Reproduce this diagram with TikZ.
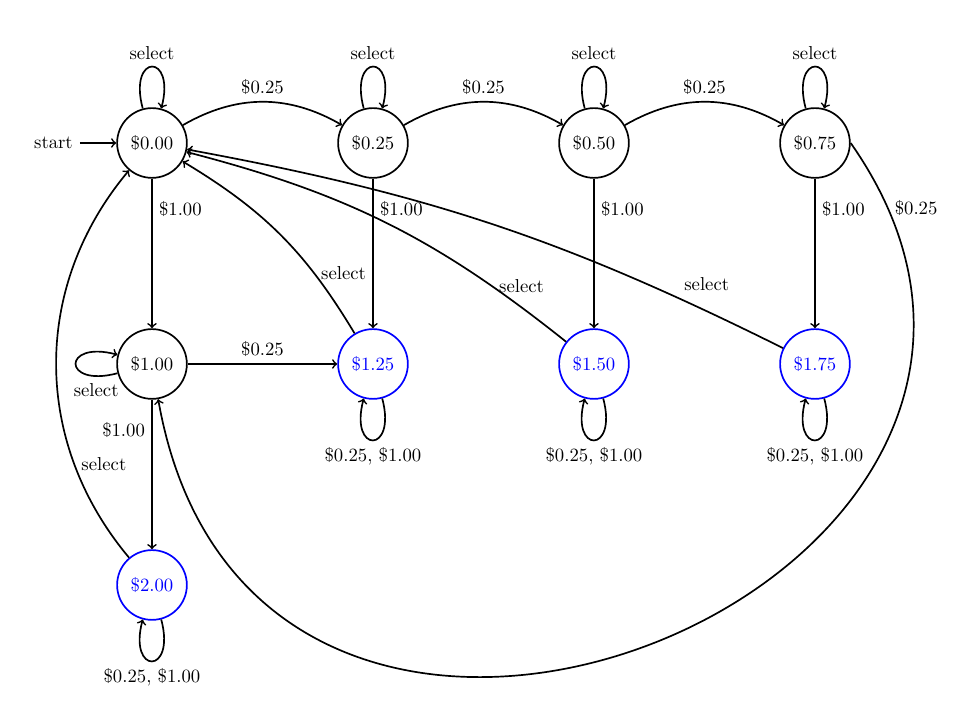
\documentclass[tikz,border=0pt]{standalone}
\begin{document}
\begin{tikzpicture}[line width=0.9pt,
  coin/.style={draw, circle, minimum size=1.31cm, inner sep=0pt},
  paid/.style={coin, blue}]
\useasboundingbox (-2.854,-10.779) rectangle (15.549,2.685);
% states
\node[coin] (q000) at (0,0) {\$0.00};
\node[coin] (q025) at (4.15,0) {\$0.25};
\node[coin] (q050) at (8.3,0) {\$0.50};
\node[coin] (q075) at (12.45,0) {\$0.75};
\node[coin] (q100) at (0,-4.15) {\$1.00};
\node[paid] (q125) at (4.15,-4.15) {\$1.25};
\node[paid] (q150) at (8.3,-4.15) {\$1.50};
\node[paid] (q175) at (12.45,-4.15) {\$1.75};
\node[paid] (q200) at (0,-8.3) {\$2.00};
\node (start) at (-1.85,0) {start};
\draw[->] (start) -- (q000);
% loops
\draw[->] (q000) to[loop above] node[above] {select} ();
\draw[->] (q025) to[loop above] node[above] {select} ();
\draw[->] (q050) to[loop above] node[above] {select} ();
\draw[->] (q075) to[loop above] node[above] {select} ();
\draw[->] (q100) to[loop left] node[below, pos=0.15] {select} ();
\draw[->] (q125) to[loop below] node[below] {\$0.25, \$1.00} ();
\draw[->] (q150) to[loop below] node[below] {\$0.25, \$1.00} ();
\draw[->] (q175) to[loop below] node[below] {\$0.25, \$1.00} ();
\draw[->] (q200) to[loop below] node[below] {\$0.25, \$1.00} ();
% quarters
\draw[->] (q000) to[bend left=30] node[above] {\$0.25} (q025);
\draw[->] (q025) to[bend left=30] node[above] {\$0.25} (q050);
\draw[->] (q050) to[bend left=30] node[above] {\$0.25} (q075);
\draw[->] (q100) -- node[above] {\$0.25} (q125);
\draw[->] (q075.east) to[out=-55, in=-80, out looseness=1.85, in looseness=1.95] node[right, pos=0.05] {\$0.25} (q100);
% dollars
\draw[->] (q000) -- node[right, pos=0.2] {\$1.00} (q100);
\draw[->] (q025) -- node[right, pos=0.2] {\$1.00} (q125);
\draw[->] (q050) -- node[right, pos=0.2] {\$1.00} (q150);
\draw[->] (q075) -- node[right, pos=0.2] {\$1.00} (q175);
\draw[->] (q100) -- node[left, pos=0.2] {\$1.00} (q200);
% select back to start
\draw[->] (q125) to[bend right=14] node[right, pos=0.28] {select} (q000);
\draw[->] (q150) to[bend right=12] node[right, pos=0.2] {select} (q000);
\draw[->] (q175) to[bend right=8] node[above right, pos=0.17] {select} (q000);
\draw[->] (q200) to[bend left=40] node[right, pos=0.25] {select} (q000);
\end{tikzpicture}
\end{document}
